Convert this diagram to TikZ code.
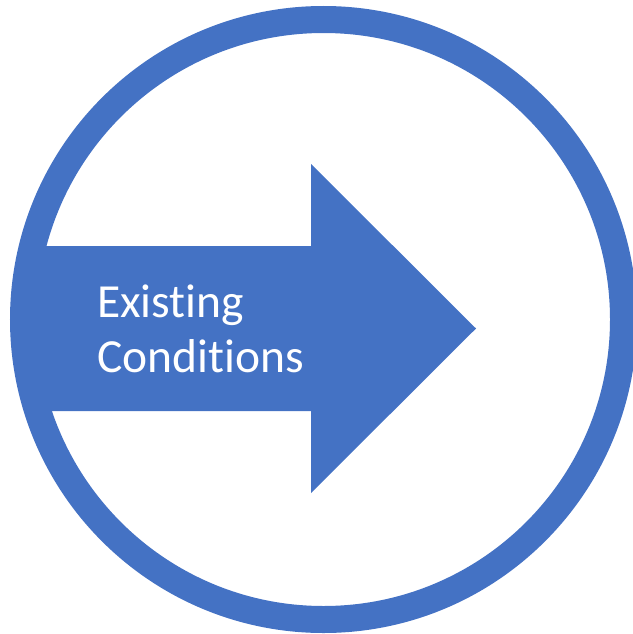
\documentclass[tikz,border=0pt]{standalone}
\usepackage{fontspec}
\setmainfont{Carlito}[Ligatures=NoCommon]
\definecolor{officeblue}{HTML}{4472C4}

\begin{document}
\begin{tikzpicture}[
	x=1pt, y=-1pt,
	ring/.style={ circle, draw=officeblue, line width=27pt, inner sep=0pt, minimum size=600pt },
	arrowfill/.style={ fill=officeblue },
	caption/.style={ text=white, inner sep=0pt, align=left, font=\fontsize{47.5}{55}\selectfont }
]

\useasboundingbox (0,0) rectangle (632,634);

\node[ring] at (323.5,319.5) (circ) {};
\fill[arrowfill] (34,246) -- (311,246) -- (311,164) -- (476,328.5) -- (311,493) -- (311,411) -- (34,411) -- cycle;
\node[caption, anchor=base west] at (97,372) (label) {Existing\\Conditions};

\end{tikzpicture}
\end{document}
